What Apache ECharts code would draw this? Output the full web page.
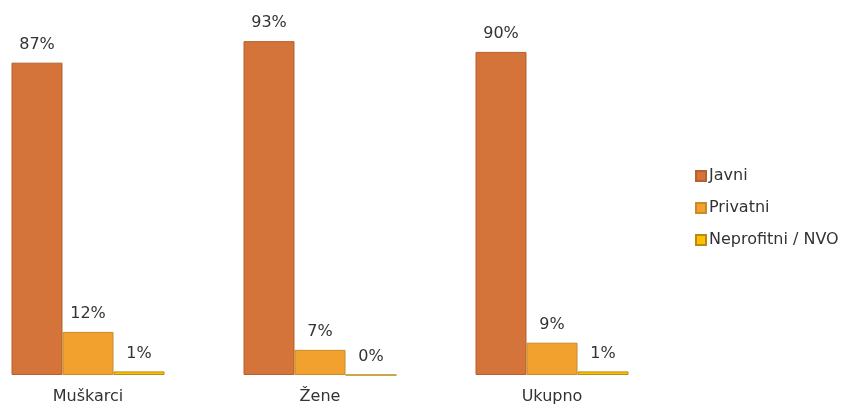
<!DOCTYPE html>
<html>
<head>
<meta charset="utf-8">
<script src="https://cdn.jsdelivr.net/npm/echarts@6/dist/echarts.min.js"></script>
<style>
  html, body { margin: 0; padding: 0; background: #fff; overflow: hidden; }
  /* shifted left so that the first category band can start off-page */
  #chart { width: 878px; height: 405px; margin-left: -28px; }
</style>
</head>
<body>
<div id="chart"></div>
<script>
const categories = ['Muškarci', 'Žene', 'Ukupno']
const javni = [87, 93, 90]
const privatni = [12, 7, 9]
const nvo = [1, 0, 1]

const chart = echarts.init(document.getElementById('chart'))

function barSeries(name, data, color, border) {
  return {
    name: name,
    type: 'bar',
    data: data,
    barWidth: 51,
    barGap: '0%',
    itemStyle: { color: color, borderColor: border, borderWidth: 1 },
    label: {
      show: true,
      position: 'top',
      distance: 10,
      formatter: '{c}%',
      fontSize: 16,
      color: '#333',
      fontFamily: 'DejaVu Sans'
    }
  }
}

chart.setOption({
  animation: false,
  textStyle: { fontFamily: 'DejaVu Sans' },
  grid: { left: 0, right: 182, top: 16, bottom: 30, containLabel: false },
  xAxis: {
    type: 'category',
    data: categories,
    axisLine: { show: false },
    axisTick: { show: false },
    axisLabel: { fontSize: 16, color: '#333', margin: 14 }
  },
  yAxis: {
    type: 'value',
    min: 0,
    max: 100,
    show: false,
    splitLine: { show: false }
  },
  legend: {
    orient: 'vertical',
    left: 718,
    top: 163,
    itemWidth: 10,
    itemHeight: 10,
    itemGap: 16,
    icon: 'rect',
    textStyle: { fontSize: 16, color: '#333', padding: [0, 0, 0, -2] },
    data: ['Javni', 'Privatni', 'Neprofitni / NVO']
  },
  series: [
    barSeries('Javni', javni, '#D4733A', '#B5602E'),
    barSeries('Privatni', privatni, '#F2A12E', '#C98A28'),
    barSeries('Neprofitni / NVO', nvo, '#FFC000', '#B88A10')
  ]
})
</script>
</body>
</html>
